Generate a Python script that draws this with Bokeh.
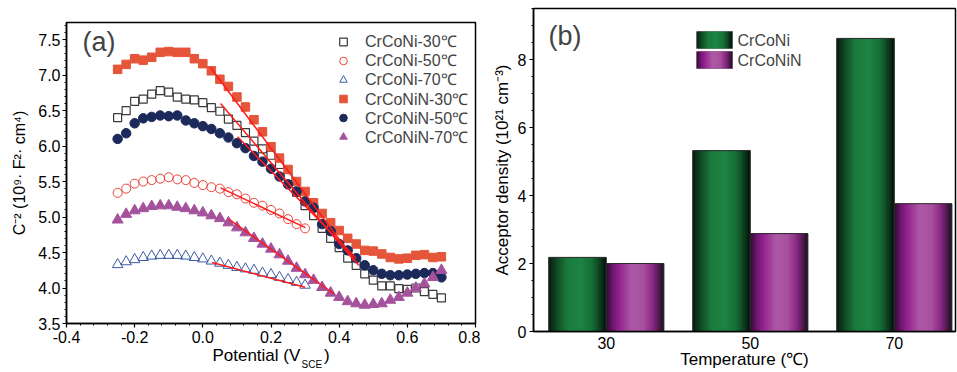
from bokeh.plotting import figure
from bokeh.models import (Range1d, SingleIntervalTicker, FixedTicker, PrintfTickFormatter,
                          CustomJSTickFormatter, LinearAxis, Label, Legend, LegendItem,
                          BoxAnnotation)
from bokeh.embed import file_html
from bokeh.resources import INLINE

# ---------------- data: panel (a) ----------------
potential = [-0.250, -0.225, -0.200, -0.175, -0.150, -0.125, -0.100, -0.075, -0.050, -0.025,
             0.000, 0.025, 0.050, 0.075, 0.100, 0.125, 0.150, 0.175, 0.200, 0.225,
             0.250, 0.275, 0.300, 0.325, 0.350, 0.375, 0.400, 0.425, 0.450, 0.475,
             0.500, 0.525, 0.550, 0.575, 0.600, 0.625, 0.650, 0.675, 0.700]
potential_short = [-0.250, -0.225, -0.200, -0.175, -0.150, -0.125, -0.100, -0.075, -0.050, -0.025,
                   0.000, 0.025, 0.050, 0.075, 0.100, 0.125, 0.150, 0.175, 0.200, 0.225,
                   0.250, 0.275, 0.300]

crconi_30 = [6.40, 6.50, 6.63, 6.66, 6.73, 6.78, 6.76, 6.69, 6.66, 6.65, 6.61, 6.54, 6.49, 6.38,
             6.29, 6.19, 6.07, 5.96, 5.87, 5.74, 5.57, 5.35, 5.16, 5.02, 4.84, 4.70, 4.57, 4.42,
             4.32, 4.20, 4.11, 4.03, 4.03, 3.99, 3.98, 4.00, 3.95, 3.91, 3.86]
crconi_50 = [5.34, 5.40, 5.47, 5.50, 5.52, 5.54, 5.56, 5.53, 5.52, 5.48, 5.45, 5.42, 5.40, 5.35,
             5.32, 5.26, 5.20, 5.16, 5.10, 5.05, 4.97, 4.90, 4.84]
crconi_70 = [4.33, 4.37, 4.40, 4.43, 4.45, 4.46, 4.46, 4.46, 4.45, 4.43, 4.41, 4.38, 4.35, 4.32,
             4.29, 4.27, 4.25, 4.21, 4.19, 4.15, 4.12, 4.08, 4.04]
crconin_30 = [7.08, 7.15, 7.23, 7.21, 7.25, 7.32, 7.33, 7.32, 7.32, 7.23, 7.16, 7.06, 6.94, 6.84,
              6.69, 6.55, 6.37, 6.20, 5.99, 5.83, 5.67, 5.50, 5.36, 5.20, 5.05, 4.92, 4.81, 4.70,
              4.62, 4.53, 4.52, 4.48, 4.43, 4.41, 4.42, 4.46, 4.47, 4.43, 4.44]
crconin_50 = [6.10, 6.18, 6.32, 6.39, 6.41, 6.43, 6.42, 6.43, 6.36, 6.32, 6.28, 6.24, 6.18, 6.12,
              6.04, 5.97, 5.86, 5.78, 5.68, 5.57, 5.46, 5.36, 5.22, 5.13, 4.90, 4.80, 4.62, 4.53,
              4.42, 4.32, 4.25, 4.20, 4.18, 4.18, 4.19, 4.20, 4.21, 4.21, 4.15]
crconin_70 = [4.96, 5.04, 5.09, 5.12, 5.15, 5.16, 5.16, 5.14, 5.12, 5.09, 5.06, 5.02, 4.98, 4.92,
              4.85, 4.78, 4.70, 4.62, 4.55, 4.47, 4.38, 4.28, 4.19, 4.11, 4.01, 3.93, 3.87, 3.81,
              3.78, 3.76, 3.77, 3.78, 3.83, 3.87, 3.93, 4.00, 4.06, 4.15, 4.25]

# linear (Mott-Schottky) fits: start / end points
fit_x0 = [0.022, 0.052, 0.102, 0.052, 0.076, 0.027]
fit_y0 = [7.11, 6.60, 6.13, 5.41, 4.97, 4.36]
fit_x1 = [0.457, 0.445, 0.450, 0.301, 0.384, 0.300]
fit_y1 = [4.32, 4.38, 4.42, 4.85, 3.92, 4.01]

series_labels = ["CrCoNi-30℃", "CrCoNi-50℃", "CrCoNi-70℃",
                 "CrCoNiN-30℃", "CrCoNiN-50℃", "CrCoNiN-70℃"]

# ---------------- data: panel (b) ----------------
temperature = [30, 50, 70]
acceptor_crconi = [2.18, 5.32, 8.62]
acceptor_crconin = [2.00, 2.88, 3.76]
bar_labels = ["CrCoNi", "CrCoNiN"]

FONT = "Liberation Sans"
NBSP = "\u00a0"


def style_axes(p):
    p.xgrid.grid_line_color = None
    p.ygrid.grid_line_color = None
    p.outline_line_color = "black"
    p.outline_line_width = 1.5
    p.outline_line_alpha = 1
    for ax in (p.xaxis[0], p.yaxis[0]):
        ax.axis_line_width = 1.5
        ax.axis_line_color = "black"
        ax.major_tick_in = 0
        ax.major_tick_out = 4
        ax.minor_tick_in = 0
        ax.minor_tick_out = 2
        ax.major_tick_line_width = 1.2
        ax.minor_tick_line_width = 1
        ax.major_label_text_font = FONT
        ax.major_label_text_font_size = "16px"
        ax.major_label_text_color = "black"
        ax.axis_label_text_font = FONT
        ax.axis_label_text_font_style = "normal"
        ax.axis_label_text_color = "black"


# ---------------- panel (a) ----------------
p1 = figure(width=480, height=372, output_backend="svg", toolbar_location=None,
            x_range=Range1d(-0.4, 0.8), y_range=Range1d(3.5, 7.74),
            min_border_left=66, min_border_right=5, min_border_top=22, min_border_bottom=47)
style_axes(p1)
p1.xaxis.ticker = SingleIntervalTicker(interval=0.2, num_minor_ticks=5)
p1.yaxis.ticker = SingleIntervalTicker(interval=0.5, num_minor_ticks=5)
p1.xaxis.formatter = PrintfTickFormatter(format="%.1f")
p1.yaxis.formatter = PrintfTickFormatter(format="%.1f")
p1.xaxis.major_label_standoff = 3
p1.yaxis.major_label_standoff = 2
p1.xaxis.axis_label = "Potential (V" + NBSP * 5 + ")"
p1.xaxis.axis_label_text_font_size = "17px"
p1.xaxis.axis_label_standoff = 0
p1.yaxis.axis_label = "C⁻² (10⁹· F²· cm⁴)"
p1.yaxis.axis_label_text_font_size = "16px"
p1.yaxis.axis_label_standoff = 7

# subscript "SCE" of the x-axis title, as a label-only axis
sub_axis = LinearAxis(ticker=FixedTicker(ticks=[0.32], minor_ticks=[]),
                      formatter=CustomJSTickFormatter(code="return 'SCE'"),
                      axis_line_color=None, major_tick_line_color=None,
                      minor_tick_line_color=None, major_tick_out=0, major_tick_in=0,
                      minor_tick_out=0, minor_tick_in=0, major_label_standoff=-9,
                      major_label_text_font=FONT, major_label_text_font_size="10px",
                      major_label_text_color="black")
p1.add_layout(sub_axis, "below")

r1 = p1.scatter(potential, crconi_30, marker="square", size=8, fill_color=None,
                line_color="#3a3a3a", line_width=1.2)
r2 = p1.scatter(potential_short, crconi_50, marker="circle", size=9, fill_color=None,
                line_color="#e8443a", line_width=1)
r3 = p1.scatter(potential_short, crconi_70, marker="triangle", size=10.5, fill_color=None,
                line_color="#3c5aa6", line_width=1)
r4 = p1.scatter(potential, crconin_30, marker="square", size=8.5, fill_color="#e4553a",
                line_color="#e4553a", line_width=1)
r5 = p1.scatter(potential, crconin_50, marker="circle", size=9.5, fill_color="#1b2a5a",
                line_color="#1b2a5a", line_width=1)
r6 = p1.scatter(potential, crconin_70, marker="triangle", size=11, fill_color="#a5529d",
                line_color="#a5529d", line_width=1)
p1.segment(x0=fit_x0, y0=fit_y0, x1=fit_x1, y1=fit_y1, line_color="#ff1a1a", line_width=1.5)

# one single-row legend per series, so that the row pitch is exact
FRAME_H = 303
ROW0, PITCH, HALF_ROW = 19.7, 19.1, 12.5   # first row centre below frame top, pitch
for i, (lab, r) in enumerate(zip(series_labels, [r1, r2, r3, r4, r5, r6])):
    centre = ROW0 + PITCH * i
    leg = Legend(items=[LegendItem(label=lab, renderers=[r])],
                 location=(267, FRAME_H - centre - HALF_ROW),
                 glyph_width=20, glyph_height=19, label_height=19,
                 spacing=0, padding=0, margin=0, label_standoff=12,
                 label_text_font=FONT, label_text_font_size="16px",
                 border_line_color=None, background_fill_alpha=0)
    p1.add_layout(leg)

p1.add_layout(Label(x=16, y=282, x_units="screen", y_units="screen", text="(a)",
                    text_font=FONT, text_font_size="27px", text_baseline="middle"))

# ---------------- panel (b) ----------------
p2 = figure(width=477, height=372, output_backend="svg", toolbar_location=None,
            x_range=Range1d(19.89, 78.5), y_range=Range1d(0, 9.5),
            min_border_left=53, min_border_right=2, min_border_top=8, min_border_bottom=41)
style_axes(p2)
p2.yaxis.ticker = SingleIntervalTicker(interval=2, num_minor_ticks=4)
p2.yaxis.formatter = PrintfTickFormatter(format="%d")
p2.xaxis.ticker = FixedTicker(ticks=temperature, minor_ticks=[])
p2.xaxis.formatter = PrintfTickFormatter(format="%d")
p2.xaxis.major_tick_line_color = None
p2.xaxis.major_tick_out = 0
p2.xaxis.major_label_standoff = 5
p2.yaxis.major_label_standoff = 3
p2.xaxis.axis_label = "Temperature (℃)"
p2.xaxis.axis_label_text_font_size = "17px"
p2.xaxis.axis_label_standoff = -2
p2.yaxis.axis_label = "Acceptor density (10²¹ cm⁻³)"
p2.yaxis.axis_label_text_font_size = "17px"
p2.yaxis.axis_label_standoff = 3

GREEN_STOPS = [(0.0, "#081a0d"), (0.12, "#0f4422"), (0.32, "#1a7a3c"), (0.55, "#1c8443"),
               (0.75, "#167038"), (0.9, "#0c3a1c"), (1.0, "#040c06")]
PURPLE_STOPS = [(0.0, "#2a0d2a"), (0.1, "#6a1568"), (0.22, "#92228e"), (0.45, "#ad5aa5"),
                (0.65, "#a8509f"), (0.8, "#8a2a86"), (0.92, "#4a1a48"), (1.0, "#1e0e1e")]


def grad(stops, t):
    for (t0, c0), (t1, c1) in zip(stops, stops[1:]):
        if t0 <= t <= t1:
            f = (t - t0) / (t1 - t0)
            a = [int(c0[i:i + 2], 16) for i in (1, 3, 5)]
            b = [int(c1[i:i + 2], 16) for i in (1, 3, 5)]
            return "#%02x%02x%02x" % tuple(round(a[i] + (b[i] - a[i]) * f) for i in range(3))
    return stops[-1][1]


BAR_W = 8
NS = 24


def gradient_bars(p, centers, values, stops):
    xs, ws, tops, cols = [], [], [], []
    s = BAR_W / NS
    for c, v in zip(centers, values):
        for k in range(NS):
            left = c - BAR_W / 2 + k * s
            w = s * 1.8 if k < NS - 1 else s
            w = min(w, c + BAR_W / 2 - left)
            xs.append(left + w / 2)
            ws.append(w)
            tops.append(v)
            cols.append(grad(stops, (k + 0.5) / NS))
    p.vbar(x=xs, top=tops, bottom=0, width=ws, fill_color=cols, line_color=None)
    p.vbar(x=centers, top=values, bottom=0, width=BAR_W, fill_color=None,
           line_color="#2a2a2a", line_width=1)


green_centers = [t - BAR_W / 2 for t in temperature]
purple_centers = [t + BAR_W / 2 for t in temperature]
gradient_bars(p2, green_centers, acceptor_crconi, GREEN_STOPS)
gradient_bars(p2, purple_centers, acceptor_crconin, PURPLE_STOPS)

# legend for panel (b) with gradient swatches
SW_L, SW_W, SW_H = 163, 36, 17
for i, (stops, lab) in enumerate(zip([GREEN_STOPS, PURPLE_STOPS], bar_labels)):
    top = 300 - i * 20
    bottom = top - SW_H
    for k in range(NS):
        l = SW_L + k * SW_W / NS
        r = min(SW_L + (k + 1.8) * SW_W / NS, SW_L + SW_W)
        p2.add_layout(BoxAnnotation(left=l, right=r, top=top, bottom=bottom,
                                    left_units="screen", right_units="screen",
                                    top_units="screen", bottom_units="screen",
                                    fill_color=grad(stops, (k + 0.5) / NS), fill_alpha=1,
                                    line_color=None))
    p2.add_layout(BoxAnnotation(left=SW_L, right=SW_L + SW_W, top=top, bottom=bottom,
                                left_units="screen", right_units="screen",
                                top_units="screen", bottom_units="screen",
                                fill_color=None, fill_alpha=0, line_color="#2a2a2a",
                                line_width=1))
    p2.add_layout(Label(x=SW_L + SW_W + 5, y=(top + bottom) / 2, x_units="screen",
                        y_units="screen", text=lab, text_font=FONT, text_font_size="16px",
                        text_baseline="middle"))

p2.add_layout(Label(x=15, y=296, x_units="screen", y_units="screen", text="(b)",
                    text_font=FONT, text_font_size="27px", text_baseline="middle"))

# two independent roots side by side (no frame alignment between the panels)
TEMPLATE = """
{% block contents %}
<div style="display:flex;flex-direction:row;align-items:flex-start;">
{% for doc in docs %}{% for root in doc.roots %}{{ embed(root) }}{% endfor %}{% endfor %}
</div>
{% endblock %}
"""
open("out.html", "w").write(file_html([p1, p2], INLINE, template=TEMPLATE))
